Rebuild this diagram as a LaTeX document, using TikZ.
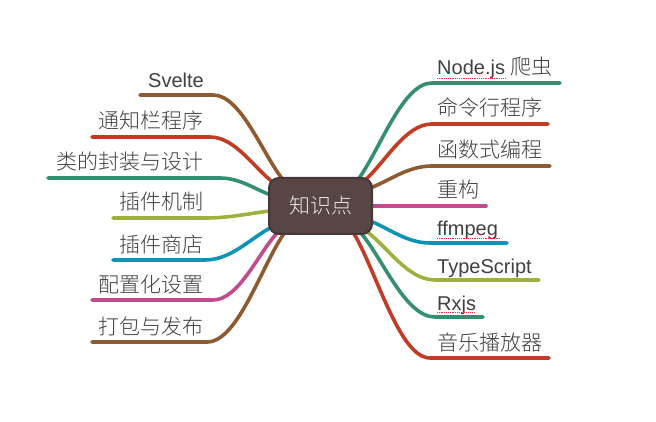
\documentclass[tikz,border=0pt]{standalone}
\usepackage{fontspec}
\setmainfont{Liberation Sans}
\newfontfamily\cjk{Noto Sans CJK SC Light}
\usetikzlibrary{calc,backgrounds}
\definecolor{cbrown}{HTML}{8E5A2F}
\definecolor{cred}{HTML}{C23B24}
\definecolor{cgreen}{HTML}{348E72}
\definecolor{colive}{HTML}{9FB03C}
\definecolor{cteal}{HTML}{0E93B2}
\definecolor{cmag}{HTML}{C24B8D}
\definecolor{cfill}{HTML}{574643}
\definecolor{cborder}{HTML}{45363A}
\definecolor{txtgray}{HTML}{404040}
\definecolor{spellred}{HTML}{F03030}
\newcommand\mmbranch[4]{\draw[br,#1] (#2) .. controls ($(#2)!0.3!(#3)$) and ($(#3)!0.4!(#3-|#2)$) .. (#3) -- (#4);}
\begin{document}
\begin{tikzpicture}[x=1pt,y=-1pt,
  br/.style={line width=3.6pt,line cap=round},
  lbl/.style={inner sep=0pt,text=txtgray,font=\fontsize{20}{20}\selectfont},
  cn/.style={inner sep=0pt,text=txtgray,font=\cjk\fontsize{21}{21}\selectfont},
  spell/.style={spellred,line width=1.1pt,dash pattern=on 1.1pt off 1.1pt}]
\useasboundingbox (0,0) rectangle (656,422);
% central node
\node[draw=cborder,fill=cfill,line width=2pt,rounded corners=10pt,minimum width=103pt,minimum height=56pt,inner sep=0pt,text={rgb,255:red,236;green,232;blue,232},font=\cjk\fontsize{21}{21}\selectfont] (c) at (320.5,206) {知识点};
% labels left
\node[lbl,anchor=base east] (l1) at (204,88) {Svelte};
\node[cn,anchor=base east] (l2) at (204,129) {通知栏程序};
\node[cn,anchor=base east] (l3) at (204,170) {类的封装与设计};
\node[cn,anchor=base east] (l4) at (204,210) {插件机制};
\node[cn,anchor=base east] (l5) at (204,252) {插件商店};
\node[cn,anchor=base east] (l6) at (204,292) {配置化设置};
\node[cn,anchor=base east] (l7) at (204,334) {打包与发布};
% labels right
\node[lbl,anchor=base west] (r1) at (437,75) {Node.js {\cjk\fontsize{21}{21}\selectfont 爬虫}};
\node[cn,anchor=base west] (r2) at (437,116) {命令行程序};
\node[cn,anchor=base west] (r3) at (437,158) {函数式编程};
\node[cn,anchor=base west] (r4) at (437,198) {重构};
\node[lbl,anchor=base west] (r5) at (437,236) {ffmpeg};
\node[lbl,anchor=base west] (r6) at (437,273) {TypeScript};
\node[lbl,anchor=base west] (r7) at (437,310) {Rxjs};
\node[cn,anchor=base west] (r8) at (437,350) {音乐播放器};
% spell-check underlines
\draw[spell] (437,78.5) -- (507,78.5);
\draw[spell] (437,238.5) -- (500,238.5);
\draw[spell] (437,312.5) -- (475,312.5);
% branch coordinates
\coordinate (ls1) at (284,181); \coordinate (le1) at (213,95);  \coordinate (lf1) at (140,95);
\coordinate (ls2) at (274,183); \coordinate (le2) at (210,137); \coordinate (lf2) at (92,137);
\coordinate (ls3) at (271,195); \coordinate (le3) at (220,178); \coordinate (lf3) at (48,178);
\coordinate (ls4) at (270,211); \coordinate (le4) at (205,218); \coordinate (lf4) at (113,218);
\coordinate (ls5) at (272,227); \coordinate (le5) at (205,260); \coordinate (lf5) at (113,260);
\coordinate (ls6) at (278,232); \coordinate (le6) at (213,300); \coordinate (lf6) at (92,300);
\coordinate (ls7) at (285,232); \coordinate (le7) at (207,342); \coordinate (lf7) at (92,342);
\coordinate (rs1) at (357,181); \coordinate (re1) at (432,83);  \coordinate (rf1) at (560,83);
\coordinate (rs2) at (364,181); \coordinate (re2) at (432,124); \coordinate (rf2) at (548,124);
\coordinate (rs3) at (370,188); \coordinate (re3) at (432,166); \coordinate (rf3) at (550,166);
\coordinate (rs4) at (370,206); \coordinate (rf4) at (486,206);
\coordinate (rs5) at (370,221); \coordinate (re5) at (430,243); \coordinate (rf5) at (507,243);
\coordinate (rs6) at (366,231); \coordinate (re6) at (435,280); \coordinate (rf6) at (539,280);
\coordinate (rs7) at (360,232); \coordinate (re7) at (435,317); \coordinate (rf7) at (483,317);
\coordinate (rs8) at (353,232); \coordinate (re8) at (430,358); \coordinate (rf8) at (549,358);
\begin{pgfonlayer}{background}
\mmbranch{cbrown}{ls1}{le1}{lf1}
\mmbranch{cred}{ls2}{le2}{lf2}
\mmbranch{cgreen}{ls3}{le3}{lf3}
\mmbranch{colive}{ls4}{le4}{lf4}
\mmbranch{cteal}{ls5}{le5}{lf5}
\mmbranch{cmag}{ls6}{le6}{lf6}
\mmbranch{cbrown}{ls7}{le7}{lf7}
\mmbranch{cgreen}{rs1}{re1}{rf1}
\mmbranch{cred}{rs2}{re2}{rf2}
\mmbranch{cbrown}{rs3}{re3}{rf3}
\draw[br,cmag] (rs4) -- (rf4);
\mmbranch{cteal}{rs5}{re5}{rf5}
\mmbranch{colive}{rs6}{re6}{rf6}
\mmbranch{cgreen}{rs7}{re7}{rf7}
\mmbranch{cred}{rs8}{re8}{rf8}
\end{pgfonlayer}
\end{tikzpicture}
\end{document}
